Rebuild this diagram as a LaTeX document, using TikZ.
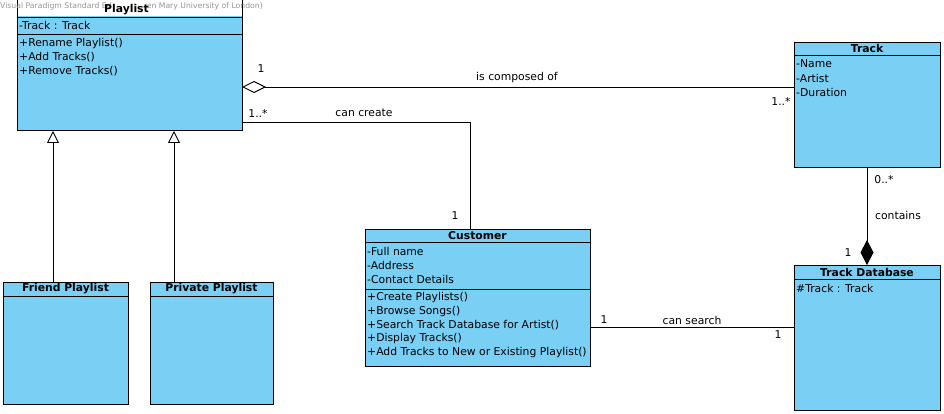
\documentclass[tikz,border=0pt]{standalone}
\usepackage{fontspec}
\setmainfont{DejaVu Sans}
\usetikzlibrary{arrows.meta}
\definecolor{umlblue}{RGB}{122,207,245}
\definecolor{wmgray}{RGB}{150,150,150}
\tikzset{
  classbox/.style={draw=black, fill=umlblue, line width=0.9pt, anchor=north west, inner sep=0pt},
  sepline/.style={line width=0.9pt},
  member/.style={anchor=west, inner sep=0pt, font=\fontsize{10.8}{12}\selectfont},
  title/.style={inner sep=0pt, font=\fontsize{10.8}{12}\selectfont\bfseries},
  lbl/.style={inner sep=0pt, font=\fontsize{10.8}{12}\selectfont},
  conn/.style={line width=0.9pt},
  wmark/.style={inner sep=0pt, text=wmgray, font=\fontsize{7.7}{8}\selectfont},
}
\begin{document}
\begin{tikzpicture}[x=1pt,y=-1pt]
\useasboundingbox[fill=white] (0,0) rectangle (944,414);

% Playlist
\node[classbox, minimum width=225pt, minimum height=131pt] (playlist) at (17,-1) {};
\draw[sepline] (17,17) -- (242,17);
\draw[sepline] (17,34) -- (242,34);
\fill[white] (0,0) rectangle (264,16.5);
\draw[sepline] (17,0) -- (17,17);
\draw[sepline] (242,0) -- (242,17);
\node[wmark, anchor=west] (wm1) at (0,6) {Visual Paradigm Standard Ed};
\node[wmark, anchor=east] (wm2) at (263,6) {en Mary University of London)};
\node[title] (playlistT) at (126.5,9.5) {Playlist};
\node[member] (pa1) at (19,25.5) {-Track : Track};
\node[member] (pm1) at (19,44) {+Rename Playlist()};
\node[member] (pm2) at (19,57.5) {+Add Tracks()};
\node[member] (pm3) at (19,71) {+Remove Tracks()};

% Track
\node[classbox, minimum width=146pt, minimum height=125pt] (track) at (794,42) {};
\draw[sepline] (794,55) -- (940,55);
\node[title] (trackT) at (867,48.5) {Track};
\node[member] (ta1) at (796,64) {-Name};
\node[member] (ta2) at (796,78) {-Artist};
\node[member] (ta3) at (796,92) {-Duration};

% Customer
\node[classbox, minimum width=225pt, minimum height=137pt] (customer) at (365,229) {};
\draw[sepline] (365,242.5) -- (590,242.5);
\draw[sepline] (365,289) -- (590,289);
\node[title] (customerT) at (477.5,235.5) {Customer};
\node[member] (ca1) at (367,251) {-Full name};
\node[member] (ca2) at (367,265) {-Address};
\node[member] (ca3) at (367,279) {-Contact Details};
\node[member] (cm1) at (367,297.5) {+Create Playlists()};
\node[member] (cm2) at (367,311.5) {+Browse Songs()};
\node[member] (cm3) at (367,325.5) {+Search Track Database for Artist()};
\node[member] (cm4) at (367,339) {+Display Tracks()};
\node[member] (cm5) at (367,353) {+Add Tracks to New or Existing Playlist()};

% Track Database
\node[classbox, minimum width=146pt, minimum height=145pt] (trackdb) at (794,265) {};
\draw[sepline] (794,279) -- (940,279);
\node[title] (trackdbT) at (867,272) {Track Database};
\node[member] (da1) at (796,288) {\#Track : Track};

% Friend Playlist
\node[classbox, minimum width=125pt, minimum height=122pt] (friend) at (3,282) {};
\draw[sepline] (3,296) -- (128,296);
\node[title] (friendT) at (65.5,289) {Friend Playlist};

% Private Playlist
\node[classbox, minimum width=123pt, minimum height=122pt] (private) at (150,282) {};
\draw[sepline] (150,296) -- (273,296);
\node[title] (privateT) at (211.5,289) {Private Playlist};

% Connectors
\coordinate (agg) at (242,87);
\draw[conn, {Diamond[open, length=24pt, width=12pt, line width=0.9pt]}-] (agg) -- (track.west |- agg);

\coordinate (cc) at (242,122);
\coordinate (ccc) at (470,122);
\draw[conn] (cc) -- (ccc) -- (customer.north -| ccc);

\coordinate (cs) at (590,327);
\draw[conn] (cs) -- (trackdb.west |- cs);

\coordinate (comp) at (867,167);
\draw[conn, {Diamond[length=25pt, width=13pt]}-] (trackdb.north -| comp) -- (comp);

\draw[conn, -{Triangle[open, length=12pt, width=12pt, line width=0.9pt]}] (friend.north -| 53,0) -- (53,131);
\draw[conn, -{Triangle[open, length=12pt, width=12pt, line width=0.9pt]}] (private.north -| 174,0) -- (174,131);

% Labels
\node[lbl] (l1) at (261,69) {1};
\node[lbl] (l2) at (517,78) {is composed of};
\node[lbl] (l3) at (781,101) {1..*};
\node[lbl] (l4) at (258,113) {1..*};
\node[lbl] (l5) at (364,113) {can create};
\node[lbl] (l6) at (455,216) {1};
\node[lbl] (l7) at (884,180) {0..*};
\node[lbl] (l8) at (898,215) {contains};
\node[lbl] (l9) at (848,253) {1};
\node[lbl] (l10) at (604,320) {1};
\node[lbl] (l11) at (692,320) {can search};
\node[lbl] (l12) at (778,335) {1};
\end{tikzpicture}
\end{document}
